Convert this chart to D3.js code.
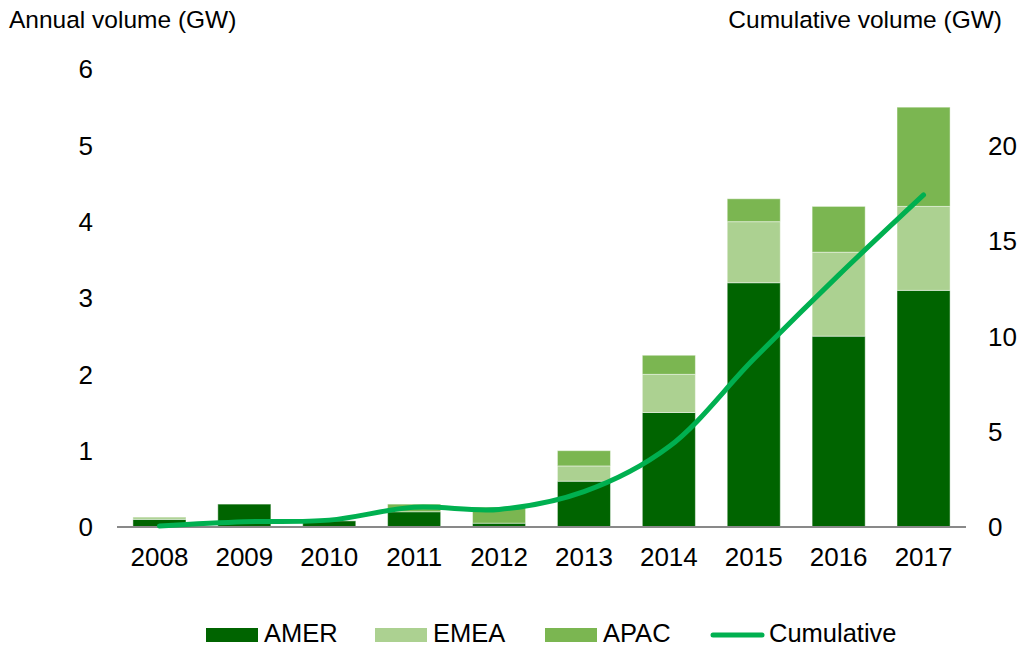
<!DOCTYPE html>
<html>
<head>
<meta charset="utf-8">
<script src="https://cdn.jsdelivr.net/npm/d3@7"></script>
<style>
  body { margin: 0; background: #fff; }
  text { font-family: "Liberation Sans", Arial, sans-serif; fill: #000; }
</style>
</head>
<body>
<div id="chart"></div>
<script>
var years = ["2008", "2009", "2010", "2011", "2012", "2013", "2014", "2015", "2016", "2017"];
var amer = [0.1, 0.3, 0.08, 0.2, 0.05, 0.6, 1.5, 3.2, 2.5, 3.1];
var emea = [0.03, 0, 0, 0, 0, 0.2, 0.5, 0.8, 1.1, 1.1];
var apac = [0, 0, 0, 0.1, 0.21, 0.2, 0.25, 0.3, 0.6, 1.3];
var cumulative = [0.05, 0.27, 0.36, 1.03, 0.92, 1.85, 4.2, 8.8, 13.2, 17.4];
var leftTicks = [0, 1, 2, 3, 4, 5, 6];
var rightTicks = [0, 5, 10, 15, 20];

var seriesNames = ["AMER", "EMEA", "APAC"];
var colors = { AMER: "#006400", EMEA: "#acd191", APAC: "#7bb651" };
var lineColor = "#00b050";

var width = 1032;
var height = 648;

var svg = d3.select("#chart")
  .append("svg")
  .attr("width", width)
  .attr("height", height);

var x = d3.scaleBand()
  .domain(years)
  .range([117, 966])
  .paddingInner(0.375)
  .paddingOuter(0.1875);

var yL = d3.scaleLinear().domain([0, 6]).range([527, 69]);
var yR = d3.scaleLinear().domain([0, 24]).range([527, 69]);

// stacked bars
var table = years.map(function(y, i) {
  return { year: y, AMER: amer[i], EMEA: emea[i], APAC: apac[i] };
});
var stack = d3.stack().keys(seriesNames)(table);

svg.append("g")
  .selectAll("g")
  .data(stack)
  .enter()
  .append("g")
  .attr("fill", function(d) { return colors[d.key]; })
  .selectAll("rect")
  .data(function(d) { return d; })
  .enter()
  .append("rect")
  .attr("x", function(d) { return x(d.data.year); })
  .attr("width", x.bandwidth())
  .attr("y", function(d) { return yL(d[1]); })
  .attr("height", function(d) { return yL(d[0]) - yL(d[1]); })
  .attr("stroke", "rgba(255,255,255,0.45)")
  .attr("stroke-width", 1);

// baseline
svg.append("line")
  .attr("x1", 117).attr("x2", 966)
  .attr("y1", yL(0)).attr("y2", yL(0))
  .attr("stroke", "#898989")
  .attr("stroke-width", 2);

// cumulative line
var line = d3.line()
  .x(function(d, i) { return x(years[i]) + x.bandwidth() / 2; })
  .y(function(d) { return yR(d); })
  .curve(d3.curveCatmullRom.alpha(0.5));

svg.append("path")
  .datum(cumulative)
  .attr("d", line)
  .attr("fill", "none")
  .attr("stroke", lineColor)
  .attr("stroke-width", 5)
  .attr("stroke-linecap", "round");

// left axis labels
svg.append("g")
  .selectAll("text")
  .data(leftTicks)
  .enter()
  .append("text")
  .attr("x", 93)
  .attr("y", function(d) { return yL(d); })
  .attr("dy", "0.36em")
  .attr("text-anchor", "end")
  .style("font-size", "26px")
  .text(function(d) { return d; });

// right axis labels
svg.append("g")
  .selectAll("text")
  .data(rightTicks)
  .enter()
  .append("text")
  .attr("x", 988)
  .attr("y", function(d) { return yR(d); })
  .attr("dy", "0.36em")
  .attr("text-anchor", "start")
  .style("font-size", "26px")
  .text(function(d) { return d; });

// year labels
svg.append("g")
  .selectAll("text")
  .data(years)
  .enter()
  .append("text")
  .attr("x", function(d) { return x(d) + x.bandwidth() / 2; })
  .attr("y", 566)
  .attr("text-anchor", "middle")
  .style("font-size", "26px")
  .text(function(d) { return d; });

// axis titles
svg.append("text")
  .attr("x", 9).attr("y", 28)
  .style("font-size", "24.5px")
  .text("Annual volume (GW)");

svg.append("text")
  .attr("x", 1002).attr("y", 28)
  .attr("text-anchor", "end")
  .style("font-size", "24.5px")
  .text("Cumulative volume (GW)");

// legend
var legendItems = [
  { name: "AMER", x: 206, type: "rect" },
  { name: "EMEA", x: 375, type: "rect" },
  { name: "APAC", x: 545, type: "rect" },
  { name: "Cumulative", x: 711, type: "line" }
];

var legend = svg.selectAll(".legend")
  .data(legendItems)
  .enter()
  .append("g")
  .attr("class", "legend")
  .attr("transform", function(d) { return "translate(" + d.x + ",635)"; });

legend.filter(function(d) { return d.type === "rect"; })
  .append("rect")
  .attr("x", 0).attr("y", -7)
  .attr("width", 52).attr("height", 14)
  .attr("fill", function(d) { return colors[d.name]; });

legend.filter(function(d) { return d.type === "line"; })
  .append("line")
  .attr("x1", 2).attr("x2", 51)
  .attr("y1", 0).attr("y2", 0)
  .attr("stroke", lineColor)
  .attr("stroke-width", 5)
  .attr("stroke-linecap", "round");

legend.append("text")
  .attr("x", 58)
  .attr("y", 7)
  .style("font-size", "25.5px")
  .text(function(d) { return d.name; });
</script>
</body>
</html>
